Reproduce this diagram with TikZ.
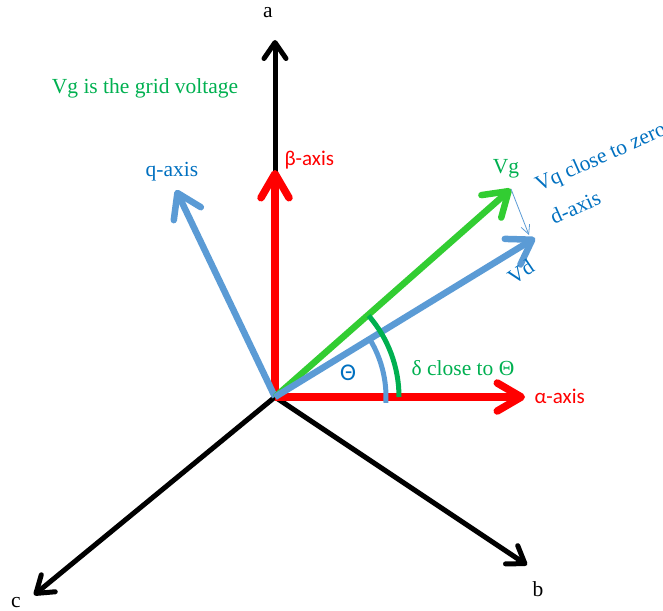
\documentclass[tikz,border=0pt]{standalone}
\usepackage{fontspec}
\setmainfont{Liberation Serif}
\newfontfamily\calibri{Carlito}
\usetikzlibrary{arrows.meta}
\definecolor{axred}{RGB}{255,0,0}
\definecolor{dqblue}{RGB}{91,155,213}
\definecolor{vgreen}{RGB}{50,205,50}
\definecolor{arcgreen}{RGB}{0,176,80}
\definecolor{txtblue}{RGB}{0,112,192}

\begin{document}
\begin{tikzpicture}[x=1pt, y=-1pt,
        abc/.style={-{Straight Barb[length=16pt,width=22pt,round]},
                    line width=5pt, black},
        ab/.style={-{Straight Barb[length=24pt,width=28pt,round]},
                   line width=7.5pt, axred},
        dq/.style={-{Straight Barb[length=23pt,width=30pt,round]},
                   line width=6.5pt, dqblue},
        vg/.style={-{Straight Barb[length=23pt,width=30pt,round]},
                   line width=6.5pt, vgreen},
        txt/.style={font=\fontsize{21.5}{24}\selectfont},
        sftxt/.style={font=\calibri\fontsize{21}{24}\selectfont}
    ]
        \useasboundingbox (0,0) rectangle (663,610);
        \coordinate (O)  at (275,397);
        \coordinate (a)  at (275,40);
        \coordinate (b)  at (527,565);
        \coordinate (c)  at (34,595);
        \coordinate (beta)  at (275,170);
        \coordinate (alpha) at (525,397);
        \coordinate (q)  at (176,190);
        \coordinate (d)  at (535,238);
        \coordinate (Vg) at (511,189);
        % abc frame
        \draw[abc] (O)--(a); \draw[abc] (O)--(b); \draw[abc] (O)--(c);
        \node[txt] (la) at (268,13)  {a};
        \node[txt] (lb) at (538,589) {b};
        \node[txt] (lc) at (16,603)  {c};
        % alpha-beta frame
        \draw[ab] (O)--(beta); \draw[ab] (O)--(alpha);
        \node[sftxt, axred, anchor=west] (lbeta)  at (281,160) {β-axis};
        \node[sftxt, axred, anchor=west] (lalpha) at (531,396) {α-axis};
        % dq frame and grid voltage
        \draw[dq] (O)--(q);
        \draw[vg] (O)--(Vg);
        \draw[dq] (O)--(d);
        \draw[-{Straight Barb[length=9pt,width=9pt]}, line width=0.8pt, dqblue]
            (Vg)--(529,235);
        \node[txt, txtblue] (lq) at (172,172) {q-axis};
        \node[txt, arcgreen] (lvg) at (506,169) {Vg};
        \node[txt, txtblue, anchor=base west, rotate=24] (lvq) at (536,193)
            {Vq close to zero};
        \node[txt, txtblue, anchor=base west, rotate=24] (ld) at (551,226) {d-axis};
        \node[txt, txtblue, anchor=base west, rotate=34] (lvd) at (511,287) {Vd};
        % angles (y axis points down, so angles run negative)
        \draw[line width=5pt, arcgreen] (O) ++(0:124) arc[start angle=0, end angle=-41, radius=124];
        \draw[line width=5pt, dqblue] (O) ++(3:111) arc[start angle=3, end angle=-31, radius=111];
        \node[sftxt, txtblue, font=\calibri\fontsize{24}{26}\selectfont] (ltheta) at (348,373) {Θ};
        \node[txt, arcgreen] (ldelta) at (463,368) {δ close to Θ};
        \node[txt, arcgreen] (lnote) at (145,88) {Vg is the grid voltage};
\end{tikzpicture}
\end{document}
